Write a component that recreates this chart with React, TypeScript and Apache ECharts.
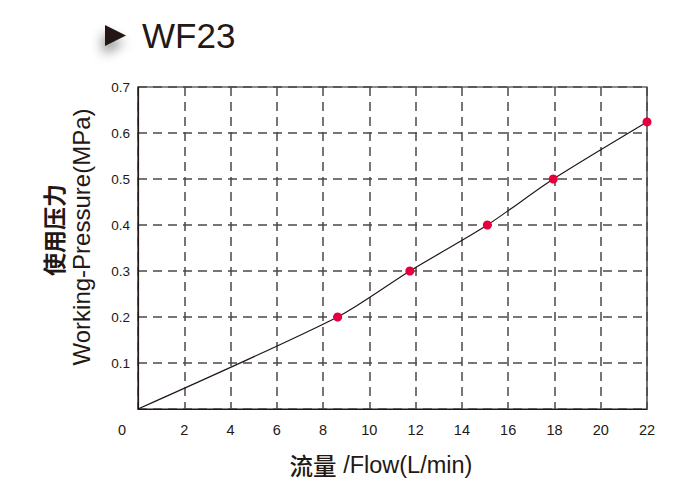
import React, { useEffect, useRef } from "react";
import * as echarts from "echarts";

const flowValues = [0, 8.63, 11.75, 15.1, 17.95, 22];
const pressureValues = [0, 0.2, 0.3, 0.4, 0.5, 0.624];
const titleText = "WF23";
const xNameCn = "流量";
const xNameEn = " /Flow(L/min)";
const yNameCn = "使用压力";
const yNameEn = "Working-Pressure(MPa)";

const INK = "#231815";
const FONT = "'Liberation Sans', Arial, sans-serif";
const CJK = "'Noto Sans CJK SC', sans-serif";

export default function App() {
  const ref = useRef<HTMLDivElement>(null);
  useEffect(() => {
    if (!ref.current) return;
    const chart = echarts.init(ref.current, null, { renderer: "svg" });
    const data = flowValues.map((x, i) => ({
      value: [x, pressureValues[i]],
      symbol: i === 0 ? "none" : "circle",
    }));
    chart.setOption({
      animation: false,
      backgroundColor: "#fff",
      grid: {
        left: 138,
        right: 53,
        top: 87,
        bottom: 91,
        show: true,
        borderColor: INK,
        borderWidth: 1.2,
      },
      xAxis: {
        type: "value",
        min: 0,
        max: 22,
        interval: 2,
        axisLine: { show: true, lineStyle: { color: INK, width: 1.2 } },
        axisTick: { show: false },
        splitLine: { show: true, lineStyle: { color: "#4a4a4a", width: 1.5, type: [9, 6] } },
        axisLabel: {
          color: INK,
          fontFamily: FONT,
          fontSize: 14.5,
          margin: 13,
          formatter: (v: number) => (v === 0 ? "{z|0}" : String(v)),
          rich: { z: { padding: [0, 32, 0, 0], fontSize: 14.5, fontFamily: FONT, color: INK } },
        },
      },
      yAxis: {
        type: "value",
        min: 0,
        max: 0.7,
        interval: 0.1,
        axisLine: { show: true, lineStyle: { color: INK, width: 1.2 } },
        axisTick: { show: false },
        splitLine: { show: true, lineStyle: { color: "#4a4a4a", width: 1.5, type: [9, 6] } },
        axisLabel: {
          color: INK,
          fontFamily: FONT,
          fontSize: 13.5,
          margin: 8,
          formatter: (v: number) => (v === 0 ? "" : v.toFixed(1)),
        },
      },
      series: [
        {
          type: "line",
          data,
          smooth: 0.25,
          symbolSize: 9,
          lineStyle: { color: INK, width: 1.2 },
          itemStyle: { color: "#e4003d" },
        },
      ],
      graphic: [
        {
          type: "polygon",
          shape: { points: [[105, 25], [105, 46], [126, 35.5]] },
          style: {
            fill: INK,
            shadowBlur: 12,
            shadowColor: "rgba(0,0,0,0.45)",
            shadowOffsetX: -2,
            shadowOffsetY: 8,
          },
        },
        {
          type: "text",
          left: 142,
          top: 18,
          style: { text: titleText, font: `35px ${FONT}`, fill: INK },
        },
        {
          type: "text",
          x: 381,
          y: 465,
          style: {
            text: `{a|${xNameCn}}{b|${xNameEn}}`,
            align: "center",
            verticalAlign: "middle",
            rich: {
              a: { fontFamily: CJK, fontSize: 23.5, fontWeight: 500, fill: INK },
              b: { fontFamily: FONT, fontSize: 23.5, fill: INK },
            },
          },
        },
        {
          type: "text",
          x: 53,
          y: 230,
          rotation: Math.PI / 2,
          style: {
            text: yNameCn,
            align: "center",
            verticalAlign: "middle",
            font: `bold 23px ${CJK}`,
            fill: INK,
          },
        },
        {
          type: "text",
          x: 81,
          y: 237,
          rotation: Math.PI / 2,
          style: {
            text: yNameEn,
            align: "center",
            verticalAlign: "middle",
            font: `24px ${FONT}`,
            fill: INK,
          },
        },
      ],
    });
    return () => chart.dispose();
  }, []);
  return (
    <div
      ref={ref}
      style={{ position: "fixed", left: 0, top: 0, width: 700, height: 500 }}
    />
  );
}
